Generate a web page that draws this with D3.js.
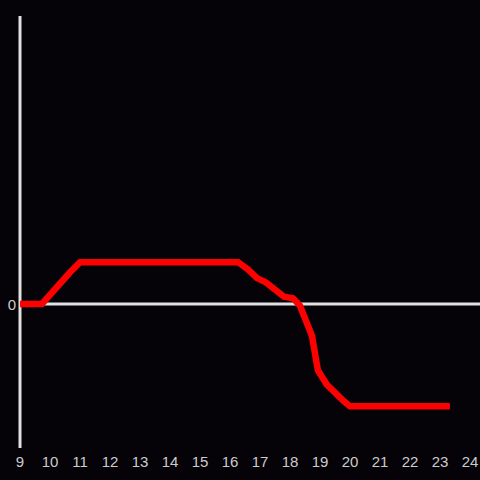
<!DOCTYPE html>
<html>
<head>
<meta charset="utf-8">
<script src="https://cdn.jsdelivr.net/npm/d3@7"></script>
<style>
  html, body { margin: 0; padding: 0; background: #050308; }
  svg { display: block; }
</style>
</head>
<body>
<div id="chart"></div>
<script>
// data
const hours = [9, 9.73, 10.67, 11, 16.27, 16.6, 16.9, 17.2, 17.8, 18.1, 18.33, 18.73, 18.93, 19.23, 19.77, 20, 23.33];
const values = [0, 0, 0.22, 0.29, 0.29, 0.24, 0.18, 0.15, 0.05, 0.04, -0.01, -0.22, -0.46, -0.56, -0.67, -0.71, -0.71];
const xTicks = d3.range(9, 25);
const yTicks = [0];

const WIDTH = 480, HEIGHT = 480;

const x = d3.scaleLinear().domain([9, 24]).range([20, 470]);
const y = d3.scaleLinear().domain([-1, 2]).range([448, 16]);

const svg = d3.select("#chart").append("svg")
    .attr("width", WIDTH)
    .attr("height", HEIGHT)
    .style("background", "#050308");

// y axis line
svg.append("line")
    .attr("x1", x(9)).attr("x2", x(9))
    .attr("y1", y(2)).attr("y2", y(-1))
    .attr("stroke", "#e0e0e0")
    .attr("stroke-width", 3);

// zero line
svg.append("line")
    .attr("x1", x(9)).attr("x2", WIDTH)
    .attr("y1", y(0)).attr("y2", y(0))
    .attr("stroke", "#e0e0e0")
    .attr("stroke-width", 3);

svg.selectAll(".xlab")
    .data(xTicks)
    .join("text")
    .attr("class", "xlab")
    .attr("x", d => x(d))
    .attr("y", 467)
    .attr("text-anchor", "middle")
    .attr("fill", "#cccccc")
    .style("font", "15px 'Liberation Sans', Arial, sans-serif")
    .text(d => d);

svg.selectAll(".ylab")
    .data(yTicks)
    .join("text")
    .attr("class", "ylab")
    .attr("x", 16)
    .attr("y", d => y(d) + 6)
    .attr("text-anchor", "end")
    .attr("fill", "#cccccc")
    .style("font", "15px 'Liberation Sans', Arial, sans-serif")
    .text(d => d);

const line = d3.line()
    .x(d => x(d[0]))
    .y(d => y(d[1]));

svg.append("path")
    .datum(d3.zip(hours, values))
    .attr("d", line)
    .attr("fill", "none")
    .attr("stroke", "#ff0000")
    .attr("stroke-width", 6.5);
</script>
</body>
</html>
